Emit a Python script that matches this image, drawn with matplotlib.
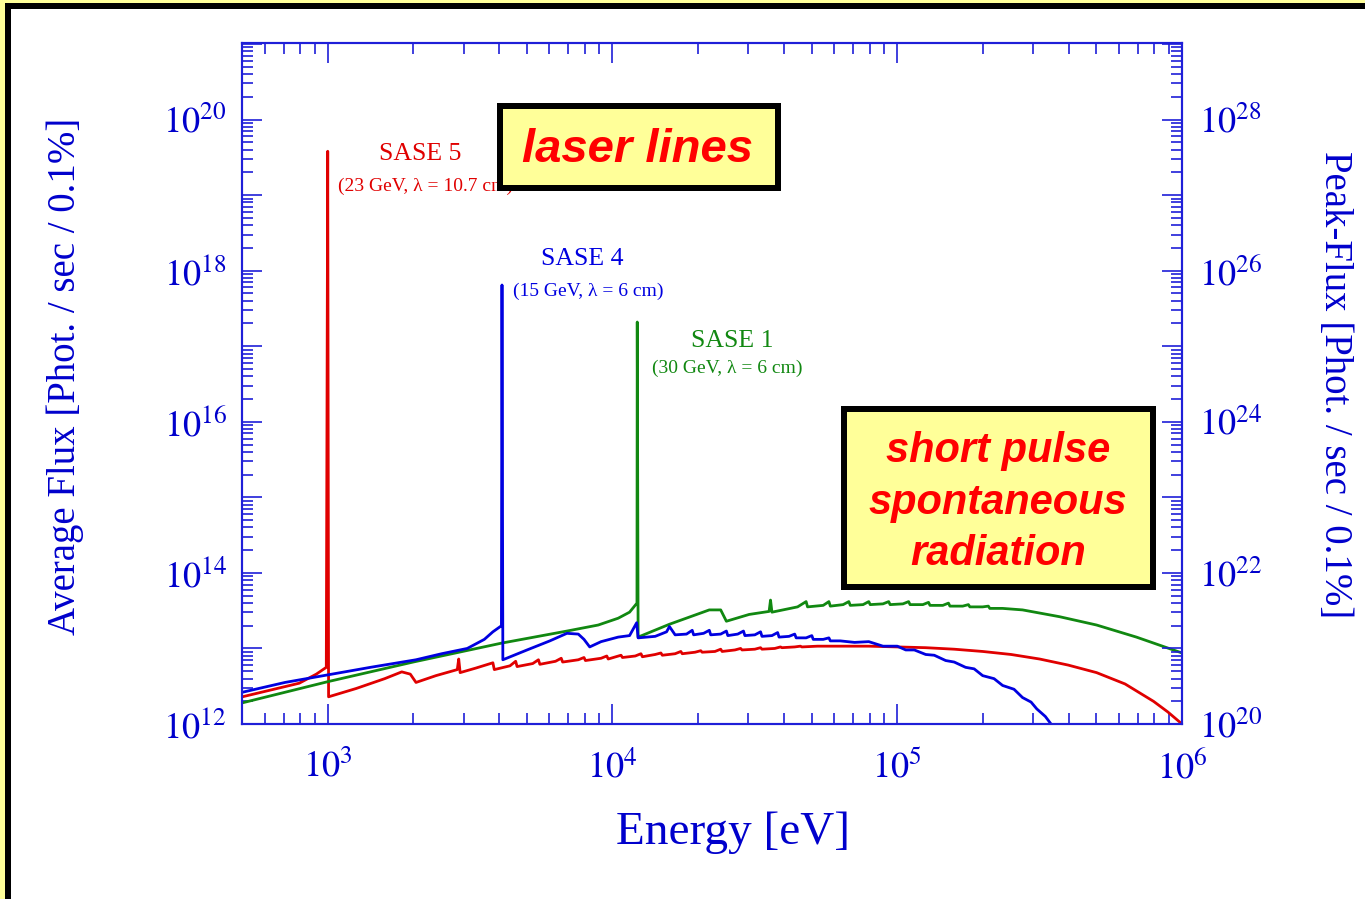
import matplotlib
matplotlib.use("Agg")
import matplotlib.pyplot as plt
from matplotlib.patches import Rectangle
from matplotlib.ticker import FixedLocator, LogLocator, FuncFormatter, NullFormatter
import numpy as np

plt.rcParams["font.family"] = ["Liberation Serif", "DejaVu Serif"]
plt.rcParams["mathtext.fontset"] = "stix"

W, H = 1365, 899

# ------------------------------------------------------------------ #
#  Spectra: log10(E / eV), log10(flux)
# ------------------------------------------------------------------ #
sase5_logE = [2.70, 2.80, 2.90, 2.96, 2.995, 3.0, 3.003, 3.10, 3.20, 3.26, 3.29, 3.31,
              3.38, 3.455, 3.46, 3.465, 3.52, 3.58, 3.585, 3.64, 3.66, 3.665, 3.72, 3.74,
              3.745, 3.80, 3.82, 3.825, 3.88, 3.90, 3.905, 3.96, 3.98, 3.985, 4.03, 4.035,
              4.08, 4.10, 4.105, 4.15, 4.17, 4.175, 4.22, 4.24, 4.245, 4.29, 4.31, 4.315,
              4.36, 4.38, 4.385, 4.43, 4.45, 4.455, 4.50, 4.52, 4.525, 4.57, 4.59, 4.595,
              4.64, 4.66, 4.665, 4.72, 4.80, 4.90, 5.00, 5.10, 5.20, 5.30, 5.40, 5.50,
              5.60, 5.70, 5.80, 5.90, 5.95, 6.00]
sase5_logF = [12.36, 12.45, 12.54, 12.66, 12.75, 19.58, 12.36, 12.47, 12.60, 12.69, 12.66, 12.55,
              12.64, 12.72, 12.86, 12.68, 12.74, 12.81, 12.72, 12.77, 12.83, 12.76, 12.80, 12.85,
              12.79, 12.83, 12.87, 12.82, 12.85, 12.88, 12.84, 12.87, 12.90, 12.86, 12.91, 12.88,
              12.90, 12.93, 12.89, 12.92, 12.94, 12.91, 12.93, 12.96, 12.93, 12.95, 12.97, 12.95,
              12.96, 12.99, 12.96, 12.98, 13.00, 12.98, 12.99, 13.01, 12.99, 13.00, 13.02, 13.01,
              13.02, 13.03, 13.02, 13.03, 13.03, 13.03, 13.02, 13.01, 12.99, 12.96, 12.92, 12.86,
              12.78, 12.68, 12.53, 12.30, 12.16, 12.00]

sase4_logE = [2.70, 2.85, 3.00, 3.15, 3.31, 3.40, 3.49, 3.55, 3.58, 3.61, 3.612, 3.615,
              3.70, 3.78, 3.84, 3.88, 3.90, 3.92, 3.96, 4.02, 4.06, 4.085, 4.09, 4.15,
              4.19, 4.20, 4.22, 4.26, 4.28, 4.285, 4.32, 4.34, 4.345, 4.38, 4.40, 4.405,
              4.44, 4.46, 4.465, 4.50, 4.52, 4.525, 4.56, 4.58, 4.585, 4.62, 4.64, 4.645,
              4.68, 4.70, 4.705, 4.74, 4.76, 4.765, 4.80, 4.85, 4.90, 4.95, 5.00, 5.03,
              5.06, 5.10, 5.13, 5.17, 5.20, 5.24, 5.27, 5.30, 5.34, 5.37, 5.41, 5.44,
              5.47, 5.49, 5.52, 5.54]
sase4_logF = [12.42, 12.55, 12.65, 12.75, 12.85, 12.93, 13.00, 13.12, 13.22, 13.30, 17.81, 12.85,
              12.98, 13.10, 13.20, 13.19, 13.12, 13.02, 13.09, 13.15, 13.17, 13.34, 13.14, 13.16,
              13.22, 13.29, 13.18, 13.19, 13.24, 13.18, 13.20, 13.24, 13.18, 13.19, 13.23, 13.17,
              13.19, 13.23, 13.17, 13.18, 13.22, 13.16, 13.17, 13.21, 13.15, 13.16, 13.19, 13.14,
              13.14, 13.17, 13.12, 13.12, 13.14, 13.10, 13.10, 13.08, 13.09, 13.03, 13.03, 12.98,
              12.98, 12.92, 12.91, 12.84, 12.82, 12.75, 12.73, 12.64, 12.60, 12.51, 12.46, 12.35,
              12.29, 12.20, 12.10, 12.00]

sase1_logE = [2.70, 3.00, 3.30, 3.61, 3.84, 3.95, 4.02, 4.06, 4.086, 4.087, 4.09, 4.20,
              4.34, 4.38, 4.40, 4.48, 4.55, 4.555, 4.56, 4.65, 4.68, 4.685, 4.74, 4.76,
              4.765, 4.81, 4.83, 4.835, 4.88, 4.90, 4.905, 4.95, 4.97, 4.975, 5.02, 5.04,
              5.045, 5.09, 5.11, 5.115, 5.16, 5.18, 5.185, 5.23, 5.25, 5.255, 5.30, 5.32,
              5.325, 5.37, 5.44, 5.57, 5.70, 5.84, 6.00]
sase1_logF = [12.28, 12.56, 12.82, 13.07, 13.23, 13.31, 13.40, 13.48, 13.60, 17.32, 13.15, 13.32,
              13.51, 13.51, 13.36, 13.45, 13.49, 13.64, 13.48, 13.55, 13.62, 13.55, 13.57, 13.62,
              13.56, 13.58, 13.62, 13.57, 13.58, 13.62, 13.58, 13.59, 13.62, 13.58, 13.59, 13.62,
              13.58, 13.58, 13.61, 13.57, 13.57, 13.60, 13.56, 13.56, 13.58, 13.55, 13.55, 13.56,
              13.53, 13.53, 13.51, 13.42, 13.31, 13.15, 12.94]

left_label_exps = [12, 14, 16, 18, 20]
right_label_exps = [20, 22, 24, 26, 28]
peak_offset = 1e8

RED, BLUE, GREEN = "#e00000", "#0000e0", "#118811"
AXC = "#1f1fd8"
TXT = "#0000cc"


def px(x, y):
    return x / W, 1 - y / H


fig = plt.figure(figsize=(W / 100, H / 100), dpi=100)
fig.patch.set_facecolor("white")

# frame: light yellow edge and thick black border (top and left)
fig.patches.append(Rectangle((0, 1 - 3 / H), 1, 3 / H, transform=fig.transFigure,
                             facecolor="#ffff99", edgecolor="none", zorder=-5))
fig.patches.append(Rectangle((0, 0), 5 / W, 1, transform=fig.transFigure,
                             facecolor="#ffff99", edgecolor="none", zorder=-5))
fig.patches.append(Rectangle((5 / W, 1 - 9 / H), 1, 6 / H, transform=fig.transFigure,
                             facecolor="black", edgecolor="none", zorder=-4))
fig.patches.append(Rectangle((5 / W, 0), 6 / W, 1 - 3 / H, transform=fig.transFigure,
                             facecolor="black", edgecolor="none", zorder=-4))

x0, y0 = px(242, 724)
x1, y1 = px(1182, 43)
ax = fig.add_axes([x0, y0, x1 - x0, y1 - y0])
ax.set_facecolor("none")

ax.plot(10 ** np.array(sase5_logE), 10 ** np.array(sase5_logF), color=RED, lw=2.0)
ax.plot(10 ** np.array(sase1_logE), 10 ** np.array(sase1_logF), color=GREEN, lw=2.0)
ax.plot(10 ** np.array(sase4_logE), 10 ** np.array(sase4_logF), color=BLUE, lw=2.0)

ax.set_xscale("log")
ax.set_yscale("log")
ax.set_xlim(500, 1e6)
ax.set_ylim(1e12, 1.03e21)


def even_label(v, pos):
    e = int(round(np.log10(v)))
    return r"$10^{%d}$" % e if e in left_label_exps else ""


ax.yaxis.set_major_locator(FixedLocator([10.0 ** e for e in range(12, 22)]))
ax.yaxis.set_major_formatter(FuncFormatter(even_label))
ax.yaxis.set_minor_locator(LogLocator(base=10, subs=np.arange(2, 10), numticks=30))
ax.yaxis.set_minor_formatter(NullFormatter())
ax.xaxis.set_major_locator(FixedLocator([1e3, 1e4, 1e5, 1e6]))
ax.xaxis.set_major_formatter(FuncFormatter(lambda v, p: r"$10^{%d}$" % round(np.log10(v))))
ax.xaxis.set_minor_locator(LogLocator(base=10, subs=np.arange(2, 10), numticks=30))
ax.xaxis.set_minor_formatter(NullFormatter())

ax.tick_params(which="both", direction="in", top=True, right=False, color=AXC,
               labelcolor=TXT, width=1.2)
ax.tick_params(which="major", length=14.5, labelsize=26)
ax.tick_params(which="minor", length=8)
ax.tick_params(axis="x", which="major", pad=19)
ax.tick_params(axis="y", which="major", pad=11)
for s in ax.spines.values():
    s.set_color(AXC)
    s.set_linewidth(1.5)

ax2 = ax.twinx()
ax2.set_yscale("log")
ax2.set_ylim(1e12 * peak_offset, 1.03e21 * peak_offset)
ax2.yaxis.set_major_locator(FixedLocator([10.0 ** e for e in range(20, 30)]))
ax2.yaxis.set_major_formatter(FuncFormatter(
    lambda v, p: r"$10^{%d}$" % round(np.log10(v)) if round(np.log10(v)) in right_label_exps else ""))
ax2.yaxis.set_minor_locator(LogLocator(base=10, subs=np.arange(2, 10), numticks=30))
ax2.yaxis.set_minor_formatter(NullFormatter())
ax2.tick_params(which="both", direction="in", color=AXC, labelcolor=TXT, width=1.2)
ax2.tick_params(which="major", length=14.5, labelsize=26, pad=12)
ax2.tick_params(which="minor", length=8)
for s in ax2.spines.values():
    s.set_color(AXC)
    s.set_linewidth(1.5)

# axis titles
fig.text(*px(65, 376), "Average Flux [Phot. / sec / 0.1%]", rotation=90, color=TXT,
         fontsize=28, ha="center", va="center")
fig.text(*px(1335, 385), "Peak-Flux [Phot. / sec / 0.1%]", rotation=-90, color=TXT,
         fontsize=28, ha="center", va="center")
fig.text(*px(733, 833), "Energy [eV]", color=TXT, fontsize=34, ha="center", va="center")

# SASE line labels
tf = fig.transFigure
ax2.text(*px(420, 154), "SASE 5", color=RED, fontsize=18.5, ha="center", va="center", transform=tf)
ax2.text(*px(338, 186), "(23 GeV, λ = 10.7 cm)", color=RED, fontsize=14, ha="left",
         va="center", transform=tf)
ax2.text(*px(582, 259), "SASE 4", color=BLUE, fontsize=18.5, ha="center", va="center", transform=tf)
ax2.text(*px(513, 291), "(15 GeV, λ = 6 cm)", color=BLUE, fontsize=14, ha="left",
         va="center", transform=tf)
ax2.text(*px(732, 341), "SASE 1", color=GREEN, fontsize=18.5, ha="center", va="center", transform=tf)
ax2.text(*px(652, 368), "(30 GeV, λ = 6 cm)", color=GREEN, fontsize=14, ha="left",
         va="center", transform=tf)


def callout(left, top, right, bottom, border=6):
    bx, by = px(left + border / 2, bottom - border / 2)
    bw = (right - left - border) / W
    bh = (bottom - top - border) / H
    fig.patches.append(Rectangle((bx, by), bw, bh, transform=fig.transFigure,
                                 facecolor="#ffff99", edgecolor="black",
                                 linewidth=border * 0.72, zorder=5))


callout(497, 103, 781, 191, border=6)
callout(841, 406, 1156, 590, border=6)

sans = ["Liberation Sans", "DejaVu Sans"]
fig.text(*px(638, 150), "laser lines", color="#ff0000", fontsize=34, fontweight="bold",
         fontstyle="italic", family=sans, ha="center", va="center", zorder=6)
for yy, line in zip([451, 503, 554], ["short pulse", "spontaneous", "radiation"]):
    fig.text(*px(998, yy), line, color="#ff0000", fontsize=30, fontweight="bold",
             fontstyle="italic", family=sans, ha="center", va="center", zorder=6)

fig.savefig("out.png", dpi=100)
